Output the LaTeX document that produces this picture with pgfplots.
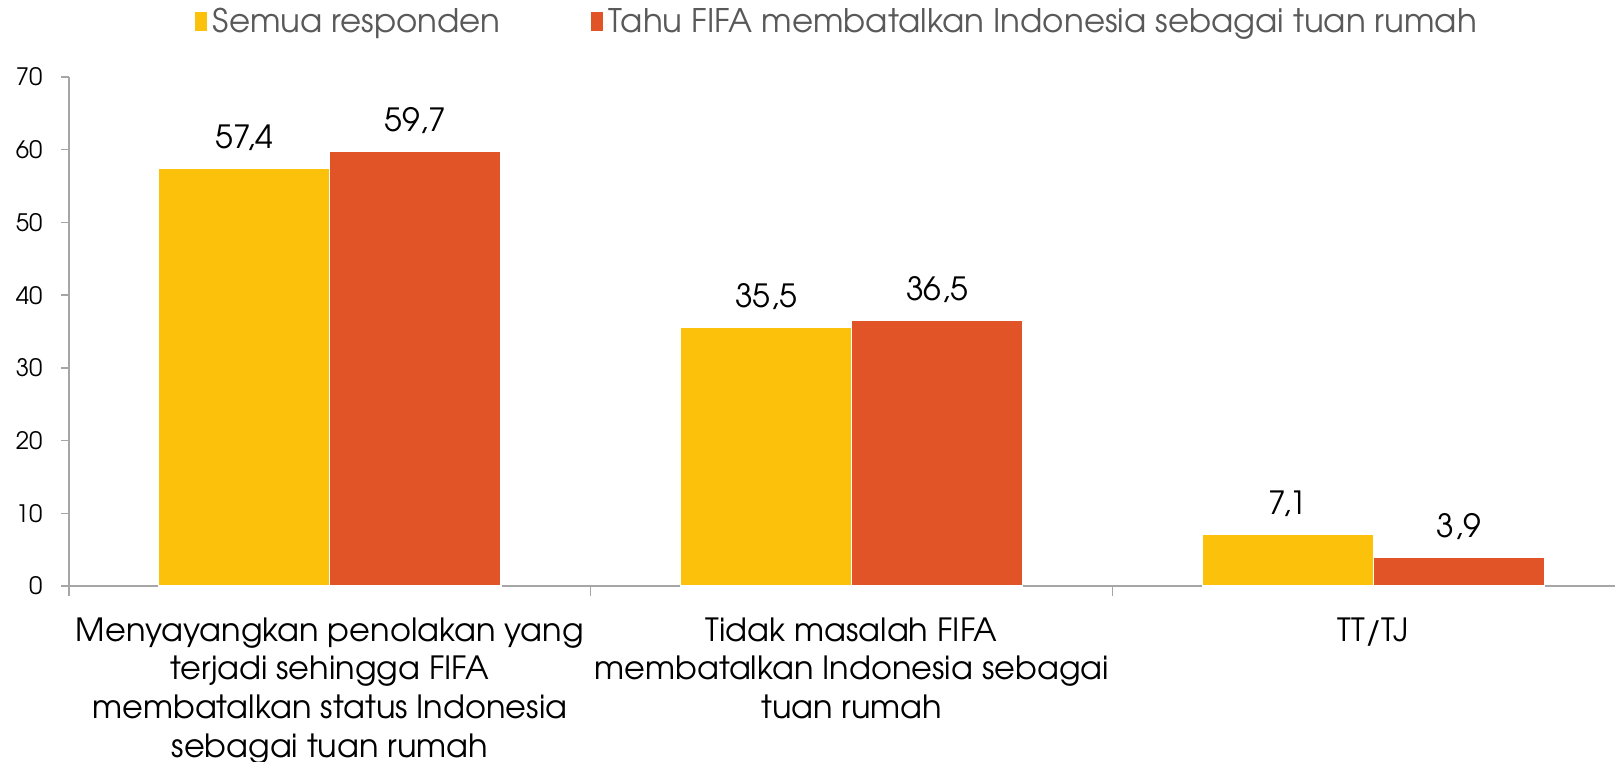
\documentclass[border=0pt]{standalone}
\usepackage{fontspec}
\setmainfont{TeX Gyre Adventor}
\usepackage{pgfplots}
\pgfplotsset{compat=1.18}
\definecolor{cyellow}{HTML}{FCC10A}
\definecolor{cred}{HTML}{E05427}
\definecolor{legtext}{HTML}{595959}
\definecolor{axgray}{HTML}{A6A6A6}
\begin{document}
\begin{tikzpicture}[x=1pt,y=1pt]
\begin{scope}
\clip (0,0) rectangle (1615,761);
\begin{axis}[
  at={(69pt,175pt)}, anchor=south west,
  scale only axis, width=1546pt, height=509pt,
  xmin=-0.5, xmax=2.463, ymin=0, ymax=70,
  ytick={0,10,...,70},
  xtick={0,1,2},
  minor xtick={-0.5,0.5,1.5,2.5},
  xticklabels={{Menyayangkan penolakan yang\\terjadi sehingga FIFA\\membatalkan status Indonesia\\sebagai tuan rumah}, {Tidak masalah FIFA\\membatalkan Indonesia sebagai\\tuan rumah}, {TT/TJ}},
  xticklabel style={align=center, font=\fontsize{32}{38.8}\selectfont, yshift=-20pt},
  yticklabel style={font=\fontsize{24}{29}\selectfont, xshift=-15pt},
  /pgf/number format/assume math mode=true,
  axis x line*=bottom, axis y line*=left,
  axis line style={axgray, line width=1.3pt},
  tick style={axgray, line width=1.3pt},
  tick align=outside,
  major tick length=8pt, minor tick length=10pt,
  major x tick style={draw=none},
  ybar=0pt, bar width=0.328,
  nodes near coords={\pgfmathprintnumber[fixed,fixed zerofill,precision=1,use comma,assume math mode=true]{\pgfplotspointmeta}},
  every node near coord/.append style={font=\fontsize{32}{38}\selectfont, black, anchor=base, yshift=20pt},
  legend image code/.code={\fill[#1, draw=none] (0pt,-9.5pt) rectangle (12pt,9.5pt);},
  legend style={at={(axis description cs:0.498,1.11)}, anchor=center, draw=none, fill=none,
    legend columns=2, font=\fontsize{32.5}{38}\selectfont, text=legtext,
    /tikz/every even column/.append style={column sep=84pt},
    nodes={inner xsep=6pt}},
  legend cell align=left,
]
\addplot[fill=cyellow, draw=white, line width=1.2pt]
  coordinates {(0,57.4) (1,35.5) (2,7.1)};
\addplot[fill=cred, draw=white, line width=1.2pt]
  coordinates {(0,59.7) (1,36.5) (2,3.9)};
\legend{Semua responden, Tahu FIFA membatalkan Indonesia sebagai tuan rumah}
\end{axis}
\end{scope}
\pgfresetboundingbox
\useasboundingbox (0,0) rectangle (1615,761);
\end{tikzpicture}
\end{document}
